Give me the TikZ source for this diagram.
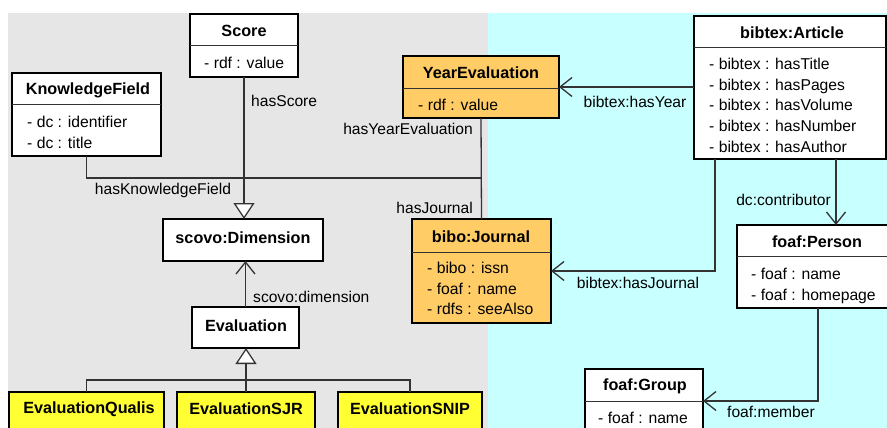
\documentclass[tikz,border=0pt]{standalone}
\usepackage{fontspec}
\setmainfont{Liberation Sans}
\usetikzlibrary{arrows.meta,calc}
\definecolor{bggray}{HTML}{E6E6E6}
\definecolor{bgcyan}{HTML}{C8FFFF}
\definecolor{orangefill}{HTML}{FFCC66}
\definecolor{yellowfill}{HTML}{FFFF33}
\definecolor{linecol}{HTML}{333333}
\tikzset{
  box/.style={draw=black, line width=2.2pt, inner sep=0pt, outer sep=0pt, rectangle},
  divider/.style={draw=linecol, line width=0.9pt},
  titletext/.style={font=\fontsize{16.2}{18}\selectfont\bfseries, inner sep=0pt},
  attrtext/.style={font=\fontsize{15.7}{20.7}\selectfont, align=left, inner sep=0pt, anchor=west},
  lbl/.style={font=\fontsize{15.6}{18}\selectfont, inner sep=0pt},
  conn/.style={draw=linecol, line width=1.3pt},
  gen/.style={conn, -{Triangle[length=16pt,width=21pt,fill=white,line width=1.3pt]}},
  assoc/.style={conn, -{Straight Barb[length=12pt,width=19pt,line width=1.3pt]}},
}
% #1 name, #2 x1, #3 y1, #4 x2, #5 y2, #6 fill
\newcommand\umlframe[6]{%
  \node[box, fill=#6, minimum width={#4-#2}, minimum height={#5-#3}] (#1) at ({(#2+#4)/2},{(#3+#5)/2}) {};
}
\begin{document}
\begin{tikzpicture}[x=1pt,y=-1pt]
\useasboundingbox (0,0) rectangle (887,428);
\clip (0,0) rectangle (887,428);
\fill[white] (0,0) rectangle (887,428);
\fill[bggray] (8,13) rectangle (488,440);
\fill[bgcyan] (488,13) rectangle (890,440);

% ---- boxes ----
% Score
\umlframe{score}{190}{14}{298}{77}{white}
\draw[divider] (190,45) -- (298,45);
\node[titletext] (score-t) at (244,31) {Score};
\node[attrtext] (score-a) at (204,63) {- rdf : value};

% KnowledgeField
\umlframe{kf}{12}{73}{161}{156}{white}
\draw[divider] (12,104) -- (161,104);
\node[titletext] (kf-t) at (88,90) {KnowledgeField};
\node[attrtext, anchor=north west] (kf-a) at (27,116) {- dc : identifier\\- dc : title};

% YearEvaluation
\umlframe{ye}{403}{56}{559}{118}{orangefill}
\draw[divider] (403,88) -- (559,88);
\node[titletext] (ye-t) at (481,73) {YearEvaluation};
\node[attrtext] (ye-a) at (418,105) {- rdf : value};

% bibtex:Article
\umlframe{art}{694}{16}{886}{159}{white}
\draw[divider] (694,47) -- (886,47);
\node[titletext] (art-t) at (792,33) {bibtex:Article};
\node[attrtext, anchor=north west] (art-a) at (709,58) {- bibtex : hasTitle\\- bibtex : hasPages\\- bibtex : hasVolume\\- bibtex : hasNumber\\- bibtex : hasAuthor};

% scovo:Dimension
\umlframe{dim}{163}{219}{323}{261}{white}
\node[titletext] (dim-t) at (243,238) {scovo:Dimension};

% bibo:Journal
\umlframe{jour}{412}{219}{551}{323}{orangefill}
\draw[divider] (412,252) -- (551,252);
\node[titletext] (jour-t) at (481,237) {bibo:Journal};
\node[attrtext, anchor=north west] (jour-a) at (427,262) {- bibo : issn\\- foaf : name\\- rdfs : seeAlso};

% foaf:Person
\umlframe{pers}{737}{225}{898}{308}{white}
\draw[divider] (737,256) -- (898,256);
\node[titletext] (pers-t) at (817,242) {foaf:Person};
\node[attrtext, anchor=north west] (pers-a) at (751,268) {- foaf : name\\- foaf : homepage};

% Evaluation
\umlframe{eval}{192}{307}{299}{348}{white}
\node[titletext] (eval-t) at (246,326) {Evaluation};

% Evaluation subclasses
\umlframe{qual}{9}{392}{164}{450}{yellowfill}
\node[titletext] (qual-t) at (89,409) {EvaluationQualis};
\umlframe{sjr}{177}{392}{315}{450}{yellowfill}
\node[titletext] (sjr-t) at (246,409) {EvaluationSJR};
\umlframe{snip}{338}{392}{482}{450}{yellowfill}
\node[titletext] (snip-t) at (410,409) {EvaluationSNIP};

% foaf:Group
\umlframe{grp}{585}{369}{703}{433}{white}
\draw[divider] (585,401) -- (703,401);
\node[titletext] (grp-t) at (645,386) {foaf:Group};
\node[attrtext] (grp-a) at (598,418) {- foaf : name};

% ---- connectors ----
\coordinate (jl) at (244,178);
\coordinate (jr) at (481,178);
\draw[conn] (kf.south) |- (jr);
\draw[conn] (ye.south) -- (jour.north);
\draw[gen] (score.south) -- (score.south |- dim.north);
\node[lbl, anchor=west] (l-score) at (251,101) {hasScore};
\node[lbl, anchor=east] (l-ye) at (473,129) {hasYearEvaluation};
\node[lbl] (l-kf) at (163,190) {hasKnowledgeField};
\node[lbl, anchor=east] (l-jour) at (473,208) {hasJournal};

\draw[assoc] (eval.north) -- (eval.north |- dim.south);
\node[lbl, anchor=west] (l-dim) at (253,297) {scovo:dimension};

\draw[conn] (qual.north) -- (86.5,380) -| (snip.north);
\draw[gen] (sjr.north) -- (sjr.north |- eval.south);

\draw[assoc] (art.west |- ye.east) -- (ye.east);
\node[lbl] (l-year) at (635,102) {bibtex:hasYear};

\draw[assoc] (715,0 |- art.south) |- (jour.east);
\node[lbl] (l-hj) at (638,283) {bibtex:hasJournal};

\draw[assoc] (836,0 |- art.south) -- (836,0 |- pers.north);
\node[lbl, anchor=east] (l-dc) at (831,200) {dc:contributor};

\draw[assoc] (818,0 |- pers.south) |- (grp.east);
\node[lbl] (l-mem) at (771,412) {foaf:member};
\end{tikzpicture}
\end{document}
